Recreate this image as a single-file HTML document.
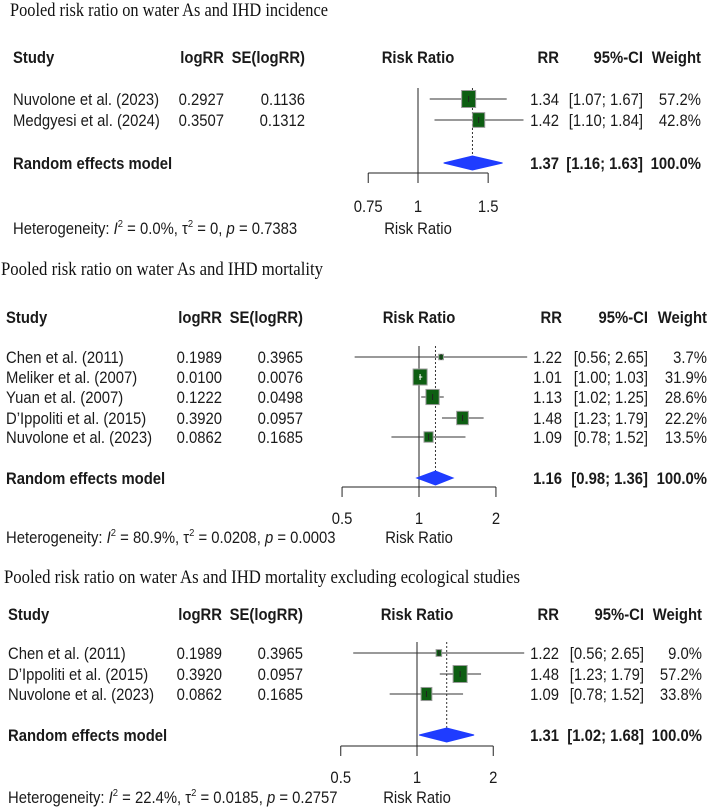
<!DOCTYPE html>
<html><head><meta charset="utf-8">
<style>
html,body{margin:0;padding:0;background:#fff;}
svg{display:block;}
</style></head>
<body>
<svg id="chart" width="709" height="807" viewBox="0 0 709 807" xmlns="http://www.w3.org/2000/svg"></svg>
<script>
// Panel 1 data
const p1Titles = "Pooled risk ratio on water As and IHD incidence";
const p1Studies = ["Nuvolone et al. (2023)", "Medgyesi et al. (2024)"];
const p1LogRR = ["0.2927", "0.3507"];
const p1SE = ["0.1136", "0.1312"];
const p1RR = [1.34, 1.42];
const p1Lo = [1.07, 1.10];
const p1Hi = [1.67, 1.84];
const p1W = [57.2, 42.8];
const p1Pooled = [1.37, 1.16, 1.63];
const p1Ticks = [0.75, 1, 1.5];
const p1TickLabels = ["0.75", "1", "1.5"];
const p1Het = ["0.0%", "0", "0.7383"];

// Panel 2 data
const p2Titles = "Pooled risk ratio on water As and IHD mortality";
const p2Studies = ["Chen et al. (2011)", "Meliker et al. (2007)", "Yuan et al. (2007)", "D\u2019Ippoliti et al. (2015)", "Nuvolone et al. (2023)"];
const p2LogRR = ["0.1989", "0.0100", "0.1222", "0.3920", "0.0862"];
const p2SE = ["0.3965", "0.0076", "0.0498", "0.0957", "0.1685"];
const p2RR = [1.22, 1.01, 1.13, 1.48, 1.09];
const p2Lo = [0.56, 1.00, 1.02, 1.23, 0.78];
const p2Hi = [2.65, 1.03, 1.25, 1.79, 1.52];
const p2W = [3.7, 31.9, 28.6, 22.2, 13.5];
const p2Pooled = [1.16, 0.98, 1.36];
const p2Ticks = [0.5, 1, 2];
const p2TickLabels = ["0.5", "1", "2"];
const p2Het = ["80.9%", "0.0208", "0.0003"];

// Panel 3 data
const p3Titles = "Pooled risk ratio on water As and IHD mortality excluding ecological studies";
const p3Studies = ["Chen et al. (2011)", "D\u2019Ippoliti et al. (2015)", "Nuvolone et al. (2023)"];
const p3LogRR = ["0.1989", "0.3920", "0.0862"];
const p3SE = ["0.3965", "0.0957", "0.1685"];
const p3RR = [1.22, 1.48, 1.09];
const p3Lo = [0.56, 1.23, 0.78];
const p3Hi = [2.65, 1.79, 1.52];
const p3W = [9.0, 57.2, 33.8];
const p3Pooled = [1.31, 1.02, 1.68];
const p3Ticks = [0.5, 1, 2];
const p3TickLabels = ["0.5", "1", "2"];
const p3Het = ["22.4%", "0.0185", "0.2757"];

const NS = "http://www.w3.org/2000/svg";
const svg = document.getElementById('chart');
const SANS = '"Liberation Sans", Arial, sans-serif';
const SERIF = '"Liberation Serif", "Times New Roman", serif';
const SX = 0.9;

function mk(tag, attrs, parent) {
  const e = document.createElementNS(NS, tag);
  for (const k in attrs) e.setAttribute(k, attrs[k]);
  (parent || svg).appendChild(e);
  return e;
}
function txt(parent, x, y, s, anchor, bold, name) {
  const t = mk('text', {transform: `translate(${x},${y}) scale(${SX},1)`, x: 0, y: 0,
    'text-anchor': anchor, 'font-family': SANS, 'font-size': 16.5,
    'font-weight': bold ? 'bold' : 'normal', fill: '#1a1a1a'}, parent);
  t.textContent = s;
  
  
  return t;
}

function panel(cfg) {
  const g = mk('g', {});
  
  
  const xs = v => cfg.x1 + cfg.scale * Math.log(v);
  const tt = mk('text', {x: cfg.titleX, y: cfg.titleY + 6, 'font-family': SERIF, 'font-size': 19,
    textLength: cfg.titleW, lengthAdjust: 'spacingAndGlyphs', fill: '#111'}, g);
  tt.textContent = cfg.title;
  
  
  const hy = cfg.headerY + 6;
  txt(g, cfg.cStudy, hy, 'Study', 'start', true, 'header-study');
  txt(g, cfg.cLog, hy, 'logRR', 'end', true, 'header-logrr');
  txt(g, cfg.cSE, hy, 'SE(logRR)', 'end', true, 'header-se');
  txt(g, cfg.x1, hy, 'Risk Ratio', 'middle', true, 'header-risk-ratio');
  txt(g, cfg.cRR, hy, 'RR', 'end', true, 'header-rr');
  txt(g, cfg.cCI, hy, '95%-CI', 'end', true, 'header-ci');
  txt(g, cfg.cW, hy, 'Weight', 'end', true, 'header-weight');

  const maxW = Math.max(...cfg.w);
  const diaTop = cfg.randY - 7;
  const vl = mk('line', {x1: xs(1), x2: xs(1), y1: cfg.rowY[0] - 11, y2: cfg.axisY, stroke: '#222', 'stroke-width': 1}, g);
  
  
  const dl = mk('line', {x1: xs(cfg.pooled[0]), x2: xs(cfg.pooled[0]), y1: cfg.rowY[0] - 11, y2: diaTop, stroke: '#333', 'stroke-width': 1, 'stroke-dasharray': '2,2'}, g);
  
  

  cfg.studies.forEach((s, i) => {
    const y = cfg.rowY[i], by = y + 6;
    txt(g, cfg.cStudy, by, s, 'start', false, 'study-name');
    txt(g, cfg.cLog, by, cfg.logrr[i], 'end', false, 'logrr-value');
    txt(g, cfg.cSE, by, cfg.se[i], 'end', false, 'se-value');
    txt(g, cfg.cRR, by, cfg.rr[i].toFixed(2), 'end', false, 'rr-value');
    txt(g, cfg.cCI, by, '[' + cfg.lo[i].toFixed(2) + '; ' + cfg.hi[i].toFixed(2) + ']', 'end', false, 'ci-value');
    txt(g, cfg.cW, by, cfg.w[i].toFixed(1) + '%', 'end', false, 'weight-value');
    const wl = mk('line', {x1: xs(cfg.lo[i]), x2: xs(cfg.hi[i]), y1: y, y2: y, stroke: '#333', 'stroke-width': 1}, g);
    
    
    const f = Math.sqrt(cfg.w[i] / maxW);
    const bw = Math.max(3, cfg.boxW * f), bh = Math.max(3, cfg.boxH * f);
    const sq = mk('rect', {x: xs(cfg.rr[i]) - bw / 2, y: y - bh / 2, width: bw, height: bh, fill: '#0d5e12', stroke: '#9a9a9a', 'stroke-width': 1}, g);
    
    
    const inside = (xs(cfg.hi[i]) - xs(cfg.lo[i])) < bw;
    const col = inside ? '#fff' : '#222';
    if (inside) {
      const wi = mk('line', {x1: xs(cfg.lo[i]), x2: xs(cfg.hi[i]), y1: y, y2: y, stroke: col, 'stroke-width': 1}, g);
      
      
    }
    const cm = mk('line', {x1: xs(cfg.rr[i]), x2: xs(cfg.rr[i]), y1: y - 3, y2: y + 3, stroke: col, 'stroke-width': 1}, g);
    
    
  });

  const ry = cfg.randY, rby = ry + 6;
  txt(g, cfg.cStudy, rby, 'Random effects model', 'start', true, 'random-effects-label');
  txt(g, cfg.cRR, rby, cfg.pooled[0].toFixed(2), 'end', true, 'pooled-rr');
  txt(g, cfg.cCI, rby, '[' + cfg.pooled[1].toFixed(2) + '; ' + cfg.pooled[2].toFixed(2) + ']', 'end', true, 'pooled-ci');
  txt(g, cfg.cW, rby, '100.0%', 'end', true, 'pooled-weight');
  const dm = mk('polygon', {points: `${xs(cfg.pooled[1])},${ry} ${xs(cfg.pooled[0])},${ry - 7} ${xs(cfg.pooled[2])},${ry} ${xs(cfg.pooled[0])},${ry + 7}`, fill: '#1f3cff', stroke: '#1f3cff'}, g);
  
  

  const t0 = cfg.ticks[0], tN = cfg.ticks[cfg.ticks.length - 1];
  const ax = mk('line', {x1: xs(t0), x2: xs(tN), y1: cfg.axisY, y2: cfg.axisY, stroke: '#222', 'stroke-width': 1}, g);
  
  
  cfg.ticks.forEach((t, i) => {
    const tk = mk('line', {x1: xs(t), x2: xs(t), y1: cfg.axisY, y2: cfg.axisY + 10, stroke: '#222', 'stroke-width': 1}, g);
    
    
    txt(g, xs(t), cfg.tickY + 6, cfg.tickLabels[i], 'middle', false, 'x-tick-label');
  });
  txt(g, cfg.x1, cfg.botY + 6, 'Risk Ratio', 'middle', false, 'x-axis-title');

  const ht = mk('text', {transform: `translate(${cfg.cStudy},${cfg.botY + 6}) scale(${SX},1)`, x: 0, y: 0,
    'font-family': SANS, 'font-size': 16.5, fill: '#1a1a1a'}, g);
  
  
  ht.innerHTML = `Heterogeneity: <tspan font-style="italic">I</tspan><tspan dy="-7" font-size="10.5">2</tspan><tspan dy="7"> = ${cfg.het[0]}, τ</tspan><tspan dy="-7" font-size="10.5">2</tspan><tspan dy="7"> = ${cfg.het[1]}, </tspan><tspan font-style="italic">p</tspan> = ${cfg.het[2]}`;
}

panel({name: 'panel-ihd-incidence', title: p1Titles, titleX: 10, titleY: 10, titleW: 318,
  studies: p1Studies, logrr: p1LogRR, se: p1SE, rr: p1RR, lo: p1Lo, hi: p1Hi, w: p1W, pooled: p1Pooled,
  ticks: p1Ticks, tickLabels: p1TickLabels, het: p1Het,
  x1: 418, scale: 173, headerY: 57, rowY: [99, 120], randY: 163, axisY: 173, tickY: 206, botY: 228,
  cStudy: 13, cLog: 224, cSE: 305, cRR: 559, cCI: 643, cW: 701, boxW: 14, boxH: 17});

panel({name: 'panel-ihd-mortality', title: p2Titles, titleX: 1, titleY: 269, titleW: 322,
  studies: p2Studies, logrr: p2LogRR, se: p2SE, rr: p2RR, lo: p2Lo, hi: p2Hi, w: p2W, pooled: p2Pooled,
  ticks: p2Ticks, tickLabels: p2TickLabels, het: p2Het,
  x1: 419, scale: 111, headerY: 317, rowY: [357, 377, 397, 418, 437], randY: 478, axisY: 487, tickY: 518, botY: 537,
  cStudy: 6, cLog: 222, cSE: 303, cRR: 562, cCI: 648, cW: 707, boxW: 14, boxH: 16});

panel({name: 'panel-ihd-mortality-excl-ecological', title: p3Titles, titleX: 4, titleY: 577, titleW: 516,
  studies: p3Studies, logrr: p3LogRR, se: p3SE, rr: p3RR, lo: p3Lo, hi: p3Hi, w: p3W, pooled: p3Pooled,
  ticks: p3Ticks, tickLabels: p3TickLabels, het: p3Het,
  x1: 417, scale: 110, headerY: 614, rowY: [653, 674, 694], randY: 735, axisY: 746, tickY: 777, botY: 797,
  cStudy: 8, cLog: 222, cSE: 303, cRR: 559, cCI: 644, cW: 702, boxW: 14, boxH: 17});
</script>
</body></html>
